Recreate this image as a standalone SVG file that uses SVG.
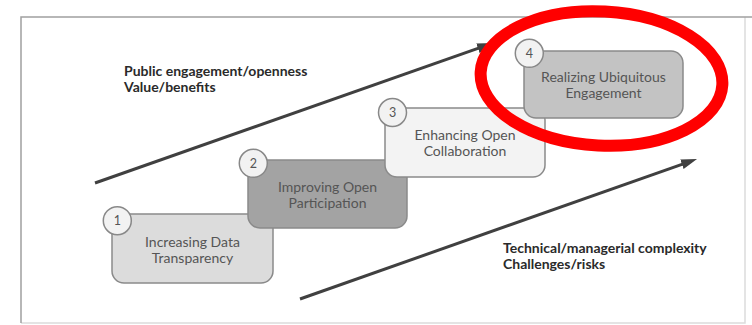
<svg xmlns="http://www.w3.org/2000/svg" width="752" height="325" viewBox="0 0 752 325">
<style>
.box{stroke:#8a8a8a;stroke-width:1.5}
.num{fill:#f2f2f2;stroke:#888;stroke-width:1.5}
.lbl{font-family:Lato,"Liberation Sans",sans-serif;font-size:14px;fill:#555;text-anchor:middle}
.dig{font-family:Lato,"Liberation Sans",sans-serif;font-size:12.5px;fill:#555;text-anchor:middle}
.cap{font-family:Lato,"Liberation Sans",sans-serif;font-size:14px;font-weight:bold;fill:#2a2a2a}
.arr{stroke:#404040;stroke-width:3;fill:none;marker-end:url(#ah)}
</style>
<defs>
<marker id="ah" markerUnits="userSpaceOnUse" markerWidth="16" markerHeight="10" refX="6" refY="5" orient="auto">
<path d="M0,0 L16,5 L0,10 z" fill="#404040"/>
</marker>
</defs>
<rect x="0" y="0" width="752" height="325" fill="#fff"/>
<g id="frame">
<path d="M745,17 L745,323 L21,323" fill="none" stroke="#dcdcdc" stroke-width="1.5"/>
<path d="M21,323 L21,17 L752,17" fill="none" stroke="#a0a0a0" stroke-width="1.5"/>
</g>
<g id="connectors">
<line class="arr" x1="95" y1="183" x2="483.6" y2="46.3"/>
<line class="arr" x1="300" y1="299" x2="687.6" y2="162.3"/>
</g>
<g id="captions">
<text class="cap" x="124" y="76">Public engagement/openness</text>
<text class="cap" x="124" y="92">Value/benefits</text>
<text class="cap" x="503" y="253">Technical/managerial complexity</text>
<text class="cap" x="503" y="269">Challenges/risks</text>
</g>
<g id="node1">
<rect class="box" x="112" y="214" width="161" height="69" rx="12" fill="#dcdcdc"/>
<circle class="num" cx="117.3" cy="220.7" r="14"/>
<text class="dig" x="117.3" y="225">1</text>
<text class="lbl" x="192.5" y="247">Increasing Data</text>
<text class="lbl" x="192.5" y="263">Transparency</text>
</g>
<g id="node2">
<rect class="box" x="248" y="160" width="159" height="68" rx="12" fill="#a3a3a3"/>
<circle class="num" cx="253.3" cy="163.3" r="14"/>
<text class="dig" x="253.3" y="167.6">2</text>
<text class="lbl" x="327.5" y="192">Improving Open</text>
<text class="lbl" x="327.5" y="208">Participation</text>
</g>
<g id="node3">
<rect class="box" x="385" y="108" width="160" height="69" rx="12" fill="#f3f3f3"/>
<circle class="num" cx="392.5" cy="112.5" r="14"/>
<text class="dig" x="392.5" y="116.8">3</text>
<text class="lbl" x="465" y="140">Enhancing Open</text>
<text class="lbl" x="465" y="156">Collaboration</text>
</g>
<g id="node4">
<rect class="box" x="524" y="51" width="159" height="67" rx="12" fill="#c3c3c3"/>
<circle class="num" cx="529.3" cy="53.3" r="14"/>
<text class="dig" x="529.3" y="57.6">4</text>
<text class="lbl" x="603.5" y="82">Realizing Ubiquitous</text>
<text class="lbl" x="603.5" y="98">Engagement</text>
</g>
<g id="highlight">
<ellipse cx="601.5" cy="78.5" rx="121" ry="67" fill="none" stroke="#ff0000" stroke-width="12" transform="rotate(3 601.5 78.5)"/>
</g>
</svg>
